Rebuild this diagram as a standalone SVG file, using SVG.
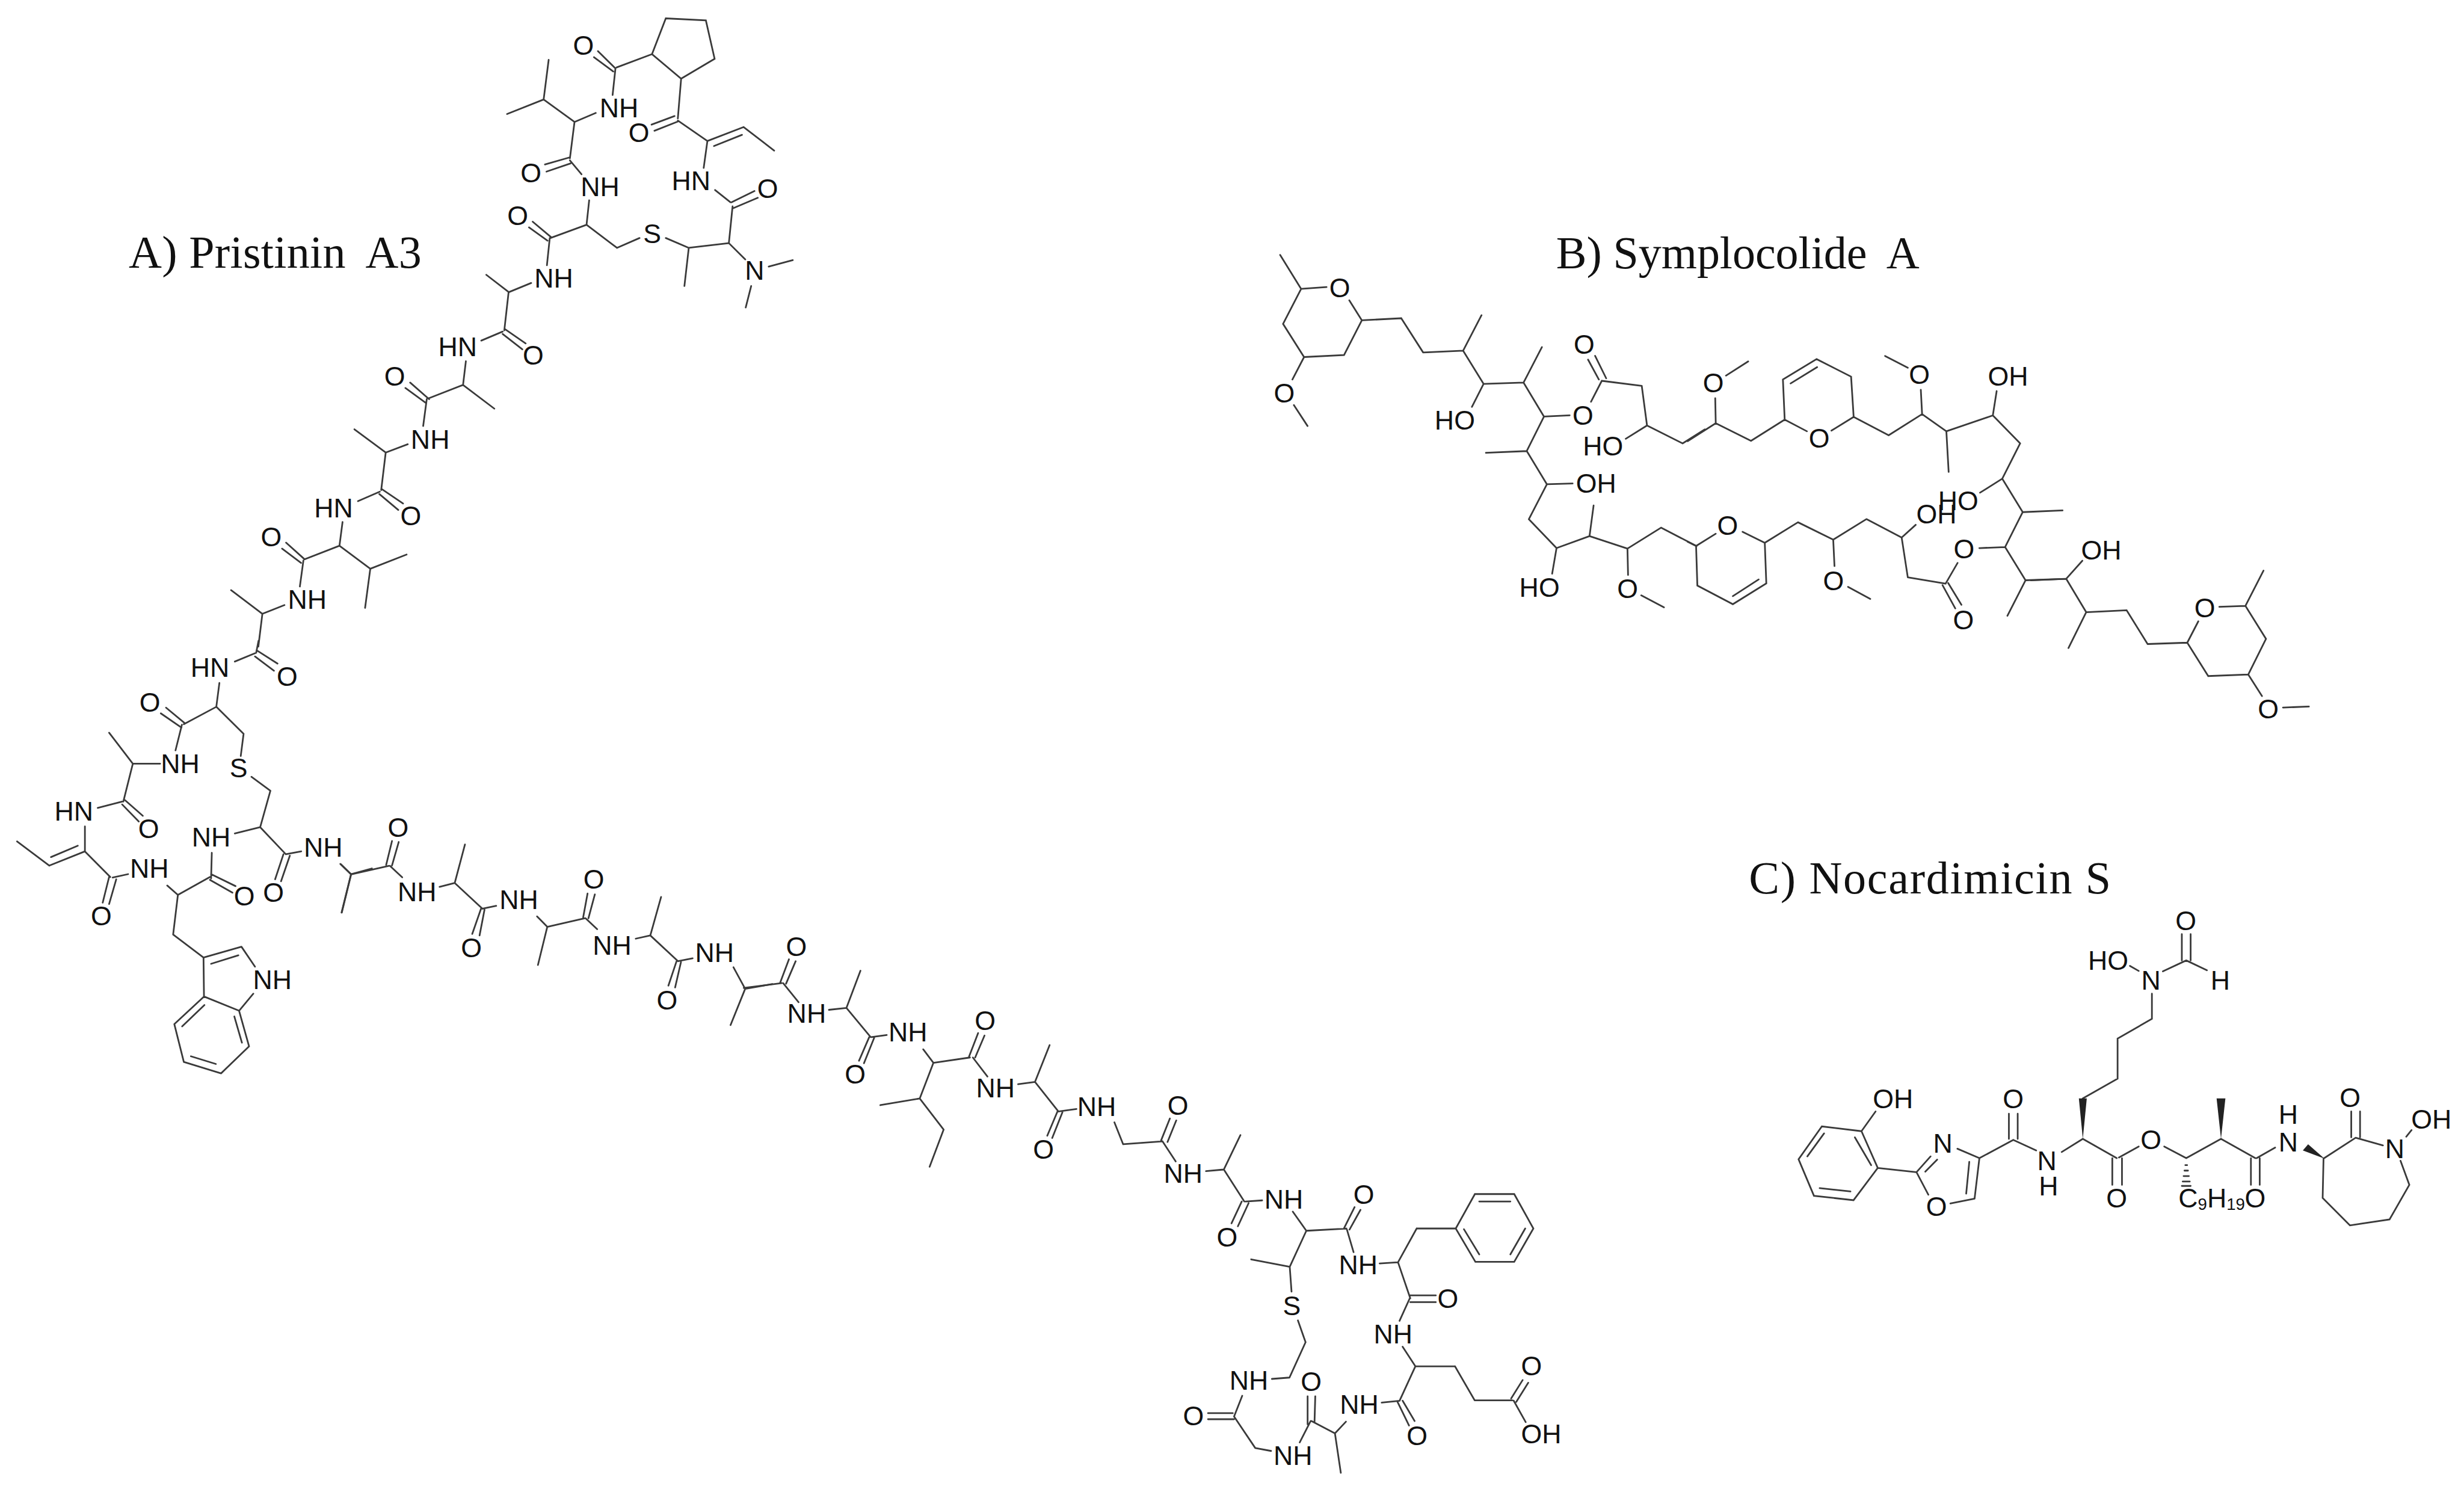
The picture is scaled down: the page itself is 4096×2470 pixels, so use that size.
<svg xmlns="http://www.w3.org/2000/svg" width="4096" height="2470" viewBox="0 0 4096 2470">
<style>
.b{fill:none;stroke:#3a3a3a;stroke-width:2.8;stroke-linecap:round;vector-effect:non-scaling-stroke}
.w{fill:#222;stroke:none}
text{fill:#111}
.t{font-family:"Liberation Serif",serif;font-size:80px}
.l{font-family:"Liberation Sans",Arial,sans-serif;font-size:47px;text-anchor:middle;dominant-baseline:central}
.s{font-size:29px}
</style>
<rect width="4096" height="2470" fill="#fff"/>
<g transform="scale(.951)">
<g id="connectors">
<path class="b" id="bonds-a1" transform="translate(850,0) scale(.3827,.3571)" d="M757 265L820 90L1003 100L1043 288L890 385Z M595 330L757 265 M590 335L510 250 M580 350L492 280 M590 335L577 465 M500 553L403 597 M403 597L262 487 M262 487L285 293 M262 487L95 558 M403 597L382 775 M382 770L268 805 M385 800L275 840 M382 785L435 853 M470 980L458 1100 M458 1100L293 1165 M295 1160L212 1085 M280 1178L195 1113 M290 1165L277 1298 M205 1385L103 1430 M103 1430L0 1345 M458 1100L597 1213 M597 1213L700 1165 M820 1165L925 1213 M925 1213L905 1400 M925 1213L1108 1190 M1108 1190L1125 1010 M1108 1190L1183 1270 M1290 1305L1400 1273 M1210 1400L1185 1505 M1120 990L1225 935 M1130 1018L1240 968 M1115 990L1045 930 M993 822L1010 690 M1010 690L1175 622 M1040 715L1168 660 M1175 622L1315 737 M1010 690L875 590 M860 568L755 610 M875 595L768 640 M875 580L890 385"/>
<path class="b" id="bonds-a2" transform="translate(350,480) scale(.4146)" d="M1300 75L1282 235 M1285 230L1372 290 M1275 250L1358 315 M1275 240L1185 278 M1120 365L1108 465 M1108 465L962 522 M1108 465L1240 565 M965 525L885 455 M950 540L865 478 M955 525L940 638 M875 715L782 750 M782 750L650 652 M782 750L763 908 M767 905L855 965 M755 925L835 992 M757 915L665 955 M600 1043L587 1143 M587 1143L440 1200 M587 1143L717 1240 M717 1240L870 1180 M717 1240L695 1405 M440 1200L362 1130 M425 1215L345 1155 M435 1205L420 1315 M355 1393L262 1430 M262 1430L130 1330 M262 1430L245 1568"/>
<path class="b" id="bonds-a3" transform="translate(0,1120) scale(.4146,.4974)" d="M1090 0L1080 42 M1085 35L1170 80 M1075 55L1155 105 M1080 42L990 73 M925 148L912 232 M912 232L775 293 M912 232L1027 327 M1027 327L1015 405 M1060 478L1140 527 M1140 527L1097 655 M1097 655L990 677 M1097 655L1205 750 M1195 750L1160 838 M1222 755L1185 845 M1205 750L1270 740 M1437 785L1480 820 M1480 820L1440 955 M1480 820L1568 800 M780 290L700 235 M765 305L678 255 M767 295L740 385 M675 432L560 432 M560 432L460 323 M560 432L520 565 M527 560L602 615 M515 575L585 635 M515 565L412 587 M358 652L358 740 M358 740L208 790 M328 720L215 760 M208 790L72 705 M358 740L465 830 M460 830L433 920 M490 838L460 925 M475 832L540 820 M705 860L750 893 M750 893L885 830 M750 893L730 1032 M890 835L893 745 M890 820L993 862 M885 840L980 885 M730 1032L858 1113 M858 1113L1018 1075 M890 1135L1005 1105 M1018 1075L1075 1145 M1068 1240L1008 1300 M1008 1300L860 1250 M858 1113L860 1250 M860 1250L735 1347 M862 1280L768 1355 M735 1347L775 1480 M775 1480L932 1520 M805 1460L910 1487 M932 1520L1050 1425 M1050 1425L1008 1300 M1020 1412L988 1320"/>
<path class="b" id="bonds-a4" transform="translate(550,1400) scale(.5102,.3333)" d="M88 330L125 385 M125 385L93 585 M125 385L255 340 M245 335L265 210 M265 338L288 215 M258 340L300 400 M428 450L480 430 M480 430L515 228 M480 430L575 565 M570 565L540 697 M582 570L565 705 M575 565L622 550 M762 605L797 660 M797 660L765 860 M797 660L925 615 M920 610L935 485 M938 615L960 490 M928 615L968 672 M1100 722L1150 705 M1150 705L1187 503 M1150 705L1245 840 M1240 840L1212 968 M1255 845L1235 978 M1245 840L1295 825 M1435 872L1475 985 M1475 985L1425 1175 M1475 985L1568 960"/>
<path class="b" id="bonds-a5" transform="translate(1300,1630) scale(.5102,.3333)" d="M0 290L130 265 M125 262L155 140 M145 268L178 150 M135 265L188 365 M292 405L352 395 M352 395L400 200 M352 395L435 548 M430 548L395 672 M447 552L412 685 M437 548L490 537 M615 612L650 683 M650 683L775 655 M772 650L803 527 M793 655L825 540 M785 655L835 755 M940 795L998 783 M998 783L1048 590 M998 783L1078 938 M1075 938L1040 1065 M1092 942L1057 1077 M1080 938L1140 925 M1270 995L1300 1110 M1300 1110L1435 1095 M1430 1090L1460 975 M1452 1098L1482 985 M1435 1095L1480 1200 M650 683L603 870 M603 870L468 905 M603 870L685 1033 M685 1033L637 1228"/>
<path class="b" id="bonds-a6" transform="translate(2050,1980) scale(.4464,.3935)" d="M130 170L200 163 M200 163L265 10 M200 163L280 305 M270 305L230 402 M297 312L255 415 M285 305L350 300 M470 350L523 435 M523 435L680 425 M670 425L712 330 M692 430L735 342 M682 430L708 530 M810 580L882 575 M882 575L955 425 M955 425L1108 425 M1108 425L1183 272L1337 272L1412 425L1337 573L1185 573Z M1200 305L1322 305 M1140 428L1200 540 M1380 425L1322 540 M882 575L930 735 M930 722L1030 722 M930 752L1030 752 M928 735L888 835 M900 950L950 1037 M950 1037L1105 1037 M1105 1037L1182 1188 M1182 1188L1330 1188 M1325 1180L1370 1098 M1345 1195L1392 1110 M1335 1190L1382 1285 M950 1037L888 1190 M880 1195L925 1300 M900 1190L947 1280 M888 1190L818 1198 M678 1283L635 1335 M635 1335L543 1280 M635 1335L658 1510 M528 1295L528 1170 M555 1285L558 1170 M540 1280L497 1375 M385 1413L323 1400 M323 1400L240 1260 M235 1245L138 1245 M240 1272L138 1272 M240 1260L272 1168 M388 1093L457 1087 M457 1087L520 930 M520 930L490 833 M465 705L458 595 M458 595L307 562 M458 595L523 435"/>
<path class="b" id="bonds-b1" transform="translate(2180,400) scale(.5102,.4464)" d="M113 102L185 235 M185 235L272 228 M350 280L393 358 M185 235L123 372L195 502L332 494L393 358 M195 502L155 590 M160 690L207 772 M393 358L528 350 M528 350L603 484 M603 484L740 477 M740 477L803 338 M740 477L810 607 M810 607L770 697 M810 607L947 602 M947 602L1010 463 M947 602L1017 735 M1017 735L1105 730 M1017 735L958 870 M958 870L818 877 M958 870L1027 1000 M1027 1000L1115 997 M1027 1000L965 1137 M965 1137L1060 1250 M1060 1250L1045 1350 M1060 1250L1173 1203 M1173 1203L1187 1083 M1173 1203L1303 1252 M1303 1252L1305 1355 M1350 1435L1428 1482 M1303 1252L1418 1170 M1418 1170L1540 1242 M1178 677L1215 595 M1215 595L1352 615 M1205 590L1168 512 M1230 585L1192 497 M1352 615L1370 770 M1370 770L1297 822 M1370 770L1492 840 M1492 840L1568 785"/>
<path class="b" id="bonds-b2" transform="translate(2950,540) scale(.4464,.3699)" d="M0 625L110 540 M110 540L108 422 M150 315L237 248 M110 540L248 623 M248 623L380 523 M380 523L373 333L505 237L640 320L650 510 M403 352L507 275 M380 523L467 578 M563 575L650 510 M650 510L787 597 M787 597L918 497 M918 497L913 382 M862 278L773 222 M918 497L1013 578 M1013 578L1022 770 M1013 578L1195 503 M1195 503L1210 388 M1195 503L1302 635 M1302 635L1232 802 M1232 802L1145 868 M1232 802L1312 960 M1312 960L1468 952 M1312 960L1243 1125 M1243 1125L1142 1130 M1243 1125L1323 1282 M1323 1282L1480 1275 M1323 1282L1252 1450 M1057 1200L1010 1298 M1010 1298L862 1268 M998 1305L1048 1415 M1020 1295L1072 1398 M862 1268L838 1080 M838 1080L893 1020 M838 1080L700 993 M700 993L570 1090 M570 1090L575 1215 M628 1313L715 1370 M570 1090L432 1008 M432 1008L302 1105 M302 1105L308 1297L177 1395L38 1307L33 1120 M278 1278L177 1357 M302 1105L215 1053 M110 1062L33 1120 M33 1120L0 1100"/>
<path class="b" id="bonds-b3" transform="translate(3550,850) scale(.3333)" d="M0 493L185 485 M185 485L270 390 M185 485L290 660 M290 660L197 848 M290 660L502 650 M502 650L612 827 M612 827L820 820 M820 820L878 708 M988 632L1125 627 M1125 627L1220 442 M1125 627L1233 800L1140 987L930 995L820 820 M1140 987L1212 1100 M1322 1160L1458 1155"/>
<path class="b" id="bonds-c" transform="translate(3100,1560) scale(.7692,.3827)" d="M200 1090L110 1068L57 1218L92 1385L182 1405L237 1258Z M185 1118L222 1245 M115 1100L77 1205 M105 1350L175 1365 M200 1090L232 1000 M237 1258L325 1277 M325 1277L357 1205 M345 1275L372 1220 M418 1170L468 1213 M468 1213L457 1398 M445 1230L438 1375 M457 1398L402 1420 M325 1277L352 1380 M468 1213L545 1130 M535 1125L535 1010 M555 1125L555 1010 M545 1130L597 1178 M655 1185L703 1125 M703 1125L780 1213 M770 1213L770 1335 M792 1213L792 1335 M785 1210L830 1160 M888 1160L938 1213 M938 1213L1017 1125 M1017 1125L1095 1213 M1085 1213L1085 1335 M1105 1213L1105 1335 M1098 1213L1140 1165 M1250 1215L1323 1120 M1323 1120L1385 1155 M1425 1225L1445 1335L1400 1493L1310 1520L1248 1395L1250 1215 M1313 1118L1313 1000 M1333 1118L1333 1000 M1438 1115L1450 1085 M703 940L782 850L782 667L860 577L860 462 M885 360L938 310 M938 310L985 355 M928 310L928 190 M948 310L948 190 M810 335L830 358 M936 1245L940 1245 M934 1270L942 1270 M932 1295L944 1295 M930 1320L946 1320 M928 1340L948 1340"/>
<g transform="translate(3100,1560) scale(.7692,.3827)">
<polygon class="w" points="703,1125 694,940 712,940"/>
<polygon class="w" points="1017,1125 1007,940 1027,940"/>
<polygon class="w" points="1252,1215 1215,1150 1203,1178"/>
</g>
</g>
<g id="titles">
<g id="title-a"><text class="t" x="225" y="468" textLength="512">A) Pristinin <tspan dx="14">A3</tspan></text></g>
<g id="title-b"><text class="t" x="2720" y="469" textLength="635">B) Symplocolide <tspan dx="14">A</tspan></text></g>
<g id="title-c"><text class="t" x="3057" y="1562" textLength="633">C) Nocardimicin S</text></g>
</g>
<g id="molecule-a">
<g id="a1"><text class="l" x="1020" y="79">O</text></g>
<g id="a2"><text class="l" x="1082" y="189">NH</text></g>
<g id="a3"><text class="l" x="1117" y="232">O</text></g>
<g id="a4"><text class="l" x="928" y="302">O</text></g>
<g id="a5"><text class="l" x="1049" y="326">NH</text></g>
<g id="a6"><text class="l" x="1208" y="316">HN</text></g>
<g id="a7"><text class="l" x="1342" y="330">O</text></g>
<g id="a8"><text class="l" x="905" y="377">O</text></g>
<g id="a9"><text class="l" x="1140" y="409">S</text></g>
<g id="a10"><text class="l" x="1319" y="473">N</text></g>
<g id="a11"><text class="l" x="968" y="486">NH</text></g>
<g id="a12"><text class="l" x="932" y="621">O</text></g>
<g id="a13"><text class="l" x="800" y="606">HN</text></g>
<g id="a14"><text class="l" x="690" y="658">O</text></g>
<g id="a15"><text class="l" x="752" y="768">NH</text></g>
<g id="a16"><text class="l" x="718" y="902">O</text></g>
<g id="a17"><text class="l" x="583" y="888">HN</text></g>
<g id="a18"><text class="l" x="474" y="938">O</text></g>
<g id="a19"><text class="l" x="537" y="1048">NH</text></g>
<g id="a20"><text class="l" x="502" y="1182">O</text></g>
<g id="a21"><text class="l" x="367" y="1167">HN</text></g>
<g id="a22"><text class="l" x="262" y="1228">O</text></g>
<g id="a23"><text class="l" x="417" y="1342">S</text></g>
<g id="a24"><text class="l" x="315" y="1335">NH</text></g>
<g id="a25"><text class="l" x="129" y="1418">HN</text></g>
<g id="a26"><text class="l" x="260" y="1448">O</text></g>
<g id="a27"><text class="l" x="369" y="1463">NH</text></g>
<g id="a28"><text class="l" x="565" y="1481">NH</text></g>
<g id="a29"><text class="l" x="261" y="1518">NH</text></g>
<g id="a30"><text class="l" x="427" y="1566">O</text></g>
<g id="a31"><text class="l" x="478" y="1560">O</text></g>
<g id="a32"><text class="l" x="177" y="1601">O</text></g>
<g id="a33"><text class="l" x="476" y="1712">NH</text></g>
<g id="a34"><text class="l" x="696" y="1446">O</text></g>
<g id="a35"><text class="l" x="729" y="1559">NH</text></g>
<g id="a36"><text class="l" x="907" y="1573">NH</text></g>
<g id="a37"><text class="l" x="824" y="1657">O</text></g>
<g id="a38"><text class="l" x="1038" y="1537">O</text></g>
<g id="a39"><text class="l" x="1070" y="1652">NH</text></g>
<g id="a40"><text class="l" x="1249" y="1665">NH</text></g>
<g id="a41"><text class="l" x="1166" y="1748">O</text></g>
<g id="a42"><text class="l" x="1392" y="1655">O</text></g>
<g id="a43"><text class="l" x="1410" y="1771">NH</text></g>
<g id="a44"><text class="l" x="1587" y="1804">NH</text></g>
<g id="a45"><text class="l" x="1722" y="1784">O</text></g>
<g id="a46"><text class="l" x="1495" y="1878">O</text></g>
<g id="a47"><text class="l" x="1740" y="1902">NH</text></g>
<g id="a48"><text class="l" x="1917" y="1934">NH</text></g>
<g id="a49"><text class="l" x="2059" y="1932">O</text></g>
<g id="a50"><text class="l" x="1824" y="2009">O</text></g>
<g id="a51"><text class="l" x="2068" y="2051">NH</text></g>
<g id="a52"><text class="l" x="2244" y="2096">NH</text></g>
<g id="a53"><text class="l" x="2145" y="2163">O</text></g>
<g id="a54"><text class="l" x="2384" y="2088">O</text></g>
<g id="a55"><text class="l" x="2374" y="2211">NH</text></g>
<g id="a56"><text class="l" x="2531" y="2270">O</text></g>
<g id="a57"><text class="l" x="2258" y="2282">S</text></g>
<g id="a58"><text class="l" x="2435" y="2332">NH</text></g>
<g id="a59"><text class="l" x="2677" y="2388">O</text></g>
<g id="a60"><text class="l" x="2183" y="2413">NH</text></g>
<g id="a61"><text class="l" x="2376" y="2455">NH</text></g>
<g id="a62"><text class="l" x="2292" y="2415">O</text></g>
<g id="a63"><text class="l" x="2086" y="2475">O</text></g>
<g id="a64"><text class="l" x="2477" y="2509">O</text></g>
<g id="a65"><text class="l" x="2694" y="2506">OH</text></g>
<g id="a66"><text class="l" x="2260" y="2544">NH</text></g>
</g>
<g id="molecule-b">
<g id="b1"><text class="l" x="2342" y="503">O</text></g>
<g id="b2"><text class="l" x="2245" y="687">O</text></g>
<g id="b3"><text class="l" x="2543" y="735">HO</text></g>
<g id="b4"><text class="l" x="2767" y="726">O</text></g>
<g id="b5"><text class="l" x="2769" y="602">O</text></g>
<g id="b6"><text class="l" x="2802" y="780">HO</text></g>
<g id="b7"><text class="l" x="2790" y="845">OH</text></g>
<g id="b8"><text class="l" x="2691" y="1027">HO</text></g>
<g id="b9"><text class="l" x="2845" y="1029">O</text></g>
<g id="b10"><text class="l" x="2995" y="669">O</text></g>
<g id="b11"><text class="l" x="3180" y="766">O</text></g>
<g id="b12"><text class="l" x="3355" y="655">O</text></g>
<g id="b13"><text class="l" x="3510" y="658">OH</text></g>
<g id="b14"><text class="l" x="3423" y="875">HO</text></g>
<g id="b15"><text class="l" x="3385" y="899">OH</text></g>
<g id="b16"><text class="l" x="3433" y="960">O</text></g>
<g id="b17"><text class="l" x="3020" y="918">O</text></g>
<g id="b18"><text class="l" x="3205" y="1015">O</text></g>
<g id="b19"><text class="l" x="3432" y="1084">O</text></g>
<g id="b20"><text class="l" x="3673" y="962">OH</text></g>
<g id="b21"><text class="l" x="3854" y="1063">O</text></g>
<g id="b22"><text class="l" x="3965" y="1239">O</text></g>
</g>
<g id="molecule-c">
<g id="c1"><text class="l" x="3309" y="1921">OH</text></g>
<g id="c2"><text class="l" x="3519" y="1921">O</text></g>
<g id="c3"><text class="l" x="3396" y="1998">N</text></g>
<g id="c4"><text class="l" x="3578" y="2029">N</text></g>
<g id="c5"><text class="l" x="3581" y="2073">H</text></g>
<g id="c6"><text class="l" x="3385" y="2109">O</text></g>
<g id="c7"><text class="l" x="3700" y="2094">O</text></g>
<g id="c8"><text class="l" x="3760" y="1992">O</text></g>
<g id="c9"><text class="l" x="3942" y="2094">O</text></g>
<g id="c10"><text class="l" x="3866" y="2094">C<tspan class="s" dy="10">9</tspan><tspan dy="-10">H</tspan><tspan class="s" dy="10">19</tspan></text></g>
<g id="c11"><text class="l" x="4000" y="1996">N</text></g>
<g id="c12"><text class="l" x="4000" y="1948">H</text></g>
<g id="c13"><text class="l" x="4108" y="1918">O</text></g>
<g id="c14"><text class="l" x="4186" y="2008">N</text></g>
<g id="c15"><text class="l" x="4250" y="1956">OH</text></g>
<g id="c16"><text class="l" x="3760" y="1713">N</text></g>
<g id="c17"><text class="l" x="3881" y="1713">H</text></g>
<g id="c18"><text class="l" x="3685" y="1679">HO</text></g>
<g id="c19"><text class="l" x="3821" y="1609">O</text></g>
</g>
</g>
</svg>
